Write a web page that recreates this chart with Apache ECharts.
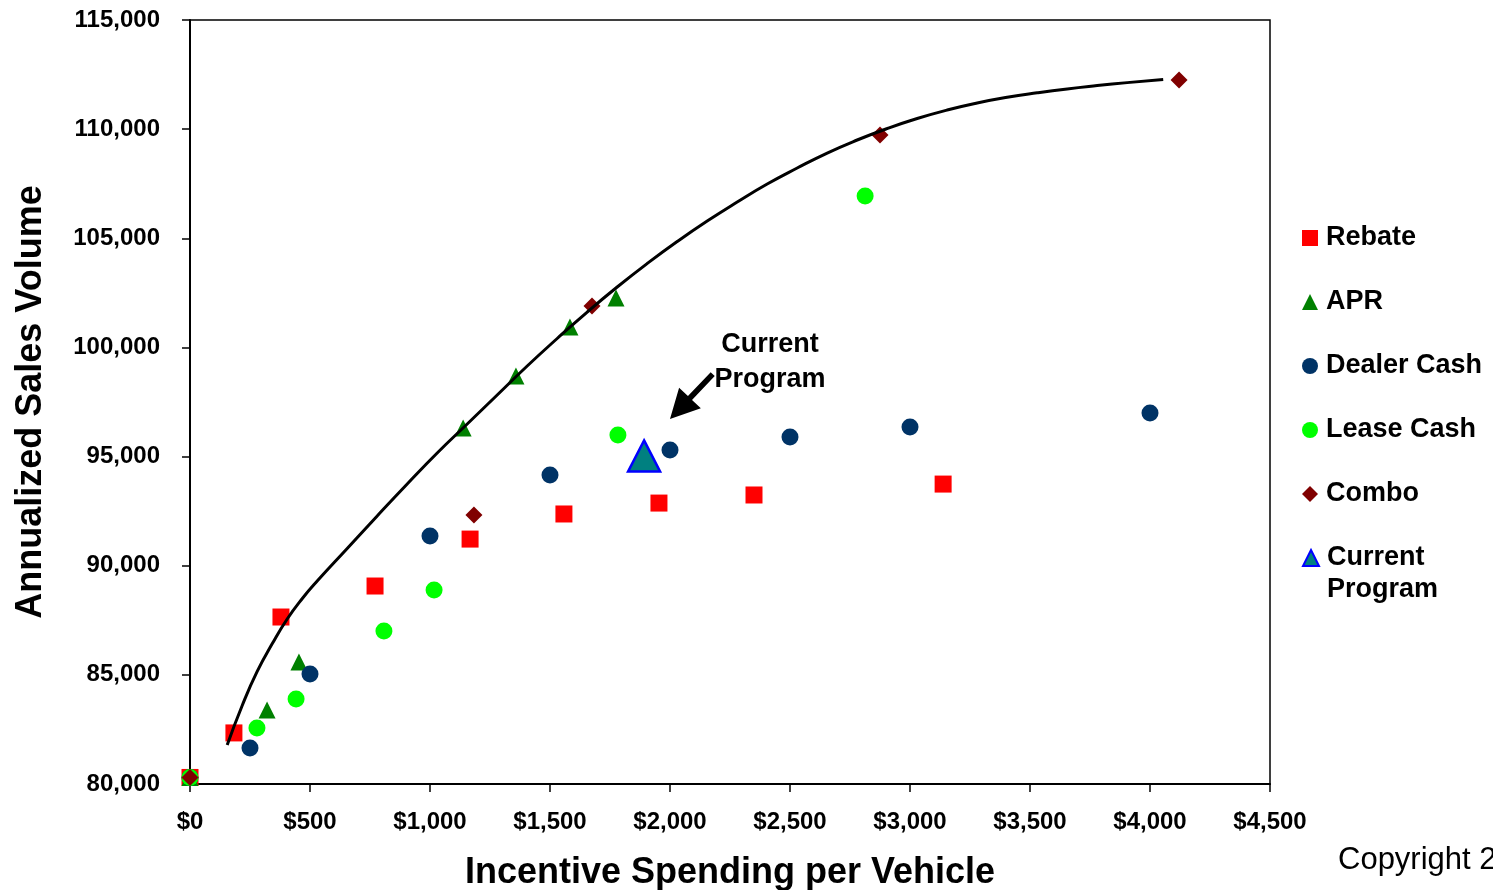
<!DOCTYPE html>
<html>
<head>
<meta charset="utf-8">
<title>Incentive Spending vs Sales Volume</title>
<script src="https://cdn.jsdelivr.net/npm/echarts@6/dist/echarts.min.js"></script>
<style>
  html, body { margin: 0; padding: 0; background: #ffffff; }
  #chart { width: 1493px; height: 890px; }
</style>
</head>
<body>
<div id="chart"></div>
<script>
// Incentive spending per vehicle ($) vs annualized sales volume, by incentive type
const rebate = [[0, 80300], [183, 82340], [379, 87650], [771, 89070], [1167, 91220], [1558, 92370], [1954, 92870], [2350, 93240], [3138, 93740]];
const apr = [[0, 80300], [321, 83390], [454, 85590], [1138, 96310], [1358, 98690], [1583, 100935], [1775, 102260]];
const dealerCash = [[0, 80300], [250, 81650], [500, 85040], [1000, 91360], [1500, 94155], [2000, 95300], [2500, 95900], [3000, 96355], [4000, 96995]];
const leaseCash = [[0, 80300], [279, 82565], [442, 83895], [808, 87010], [1017, 88890], [1783, 95990], [2813, 106935]];
const combo = [[0, 80300], [1183, 92325], [1675, 101895], [2875, 109730], [4121, 112250]];
const currentProgram = [[1892, 95030]];

// Efficient frontier curve
const frontierX = [155, 218, 280, 343, 405, 468, 530, 655, 780, 905, 1030, 1155, 1280, 1405, 1530, 1655, 1780, 1905, 2030,
                   2155, 2280, 2405, 2530, 2655, 2780, 2905, 3030, 3155, 3280, 3405, 3530, 3655, 3780, 3905, 4055];
const frontierY = [81787, 83610, 85158, 86432, 87560, 88500, 89300, 90790, 92280, 93743, 95163, 96492, 97820, 99149, 100409, 101622, 102768, 103844, 104852,
                   105791, 106661, 107486, 108219, 108906, 109502, 110028, 110487, 110876, 111197, 111458, 111664, 111843, 111994, 112131, 112278];

// Axis ranges
const xRange = { min: 0, max: 4500, step: 500 };
const yRange = { min: 80000, max: 115000, step: 5000 };

// Callout pointing at the current program: [fromX, fromY, toX, toY], text anchor
const calloutArrow = [[2178, 98780, 2000, 96720]];
const calloutText = { at: [2417, 99330], text: 'Current\nProgram' };

const FONT = "'Liberation Sans', Arial, sans-serif";

const chart = echarts.init(document.getElementById('chart'), null, { renderer: 'canvas' });

const frontier = frontierX.map((x, i) => [x, frontierY[i]]);

function scatter(name, data, symbol, size, color, extra) {
  return Object.assign({
    name: name,
    type: 'scatter',
    data: data,
    symbol: symbol,
    symbolSize: size,
    itemStyle: { color: color, opacity: 1 },
    emphasis: { disabled: true }
  }, extra || {});
}

const legendText = { fontFamily: FONT, fontSize: 27, fontWeight: 'bold', color: '#000', lineHeight: 30, padding: [0, 0, 0, 3] };

chart.setOption({
  animation: false,
  backgroundColor: '#ffffff',
  grid: {
    left: 190, right: 223, top: 20, bottom: 106,
    containLabel: false,
    outerBoundsMode: 'none',
    show: true,
    borderColor: '#000',
    borderWidth: 1.5,
    backgroundColor: 'transparent'
  },
  legend: [{
    orient: 'vertical',
    left: 1297,
    top: 218,
    itemWidth: 16,
    itemHeight: 16,
    itemGap: 34,
    textStyle: legendText,
    data: ['Rebate', 'APR', 'Dealer Cash', 'Lease Cash', 'Combo'],
    selectedMode: false
  }, {
    orient: 'vertical',
    left: 1297,
    top: 505,
    itemWidth: 16,
    itemHeight: 16,
    textStyle: Object.assign({}, legendText, { lineHeight: 32 }),
    formatter: function () { return '\nCurrent\nProgram'; },
    data: ['Current Program'],
    selectedMode: false
  }],
  xAxis: {
    type: 'value',
    min: xRange.min, max: xRange.max, interval: xRange.step,
    name: 'Incentive Spending per Vehicle',
    nameLocation: 'middle',
    nameGap: 71,
    nameTextStyle: { fontFamily: FONT, fontSize: 36, fontWeight: 'bold', color: '#000' },
    axisLine: { show: true, onZero: false, lineStyle: { color: '#000', width: 2 } },
    axisTick: { show: true, length: 8, lineStyle: { color: '#000', width: 1.5 } },
    axisLabel: {
      margin: 26,
      fontFamily: FONT, fontSize: 24, fontWeight: 'bold', color: '#000',
      formatter: v => '$' + v.toLocaleString('en-US')
    },
    splitLine: { show: false }
  },
  yAxis: {
    type: 'value',
    min: yRange.min, max: yRange.max, interval: yRange.step,
    name: 'Annualized Sales Volume',
    nameLocation: 'middle',
    nameGap: 141,
    nameTextStyle: { fontFamily: FONT, fontSize: 36, fontWeight: 'bold', color: '#000' },
    axisLine: { show: true, onZero: false, lineStyle: { color: '#000', width: 2 } },
    axisTick: { show: true, length: 8, lineStyle: { color: '#000', width: 1.5 } },
    axisLabel: {
      margin: 30,
      fontFamily: FONT, fontSize: 24, fontWeight: 'bold', color: '#000',
      formatter: v => v.toLocaleString('en-US')
    },
    splitLine: { show: false }
  },
  graphic: [{
    type: 'text',
    left: 1338,
    top: 845,
    style: { text: 'Copyright 2', font: '31px ' + FONT, fill: '#000' }
  }],
  series: [
    scatter('Rebate', rebate, 'rect', 17, '#ff0000'),
    scatter('APR', apr, 'triangle', 17, '#008000'),
    scatter('Dealer Cash', dealerCash, 'circle', 17, '#003366'),
    scatter('Lease Cash', leaseCash, 'circle', 17, '#00ff00'),
    scatter('Combo', combo, 'diamond', 17, '#800000'),
    scatter('Current Program', currentProgram, 'triangle', [32, 31], '#008080', {
      itemStyle: { color: '#008080', borderColor: '#0000ff', borderWidth: 2.5, opacity: 1 }
    }),
    {
      name: 'frontier',
      type: 'line',
      data: frontier,
      smooth: 0.5,
      showSymbol: false,
      symbol: 'none',
      lineStyle: { color: '#000', width: 3 },
      z: 5,
      silent: true
    },
    {
      name: 'callout',
      type: 'custom',
      data: calloutArrow,
      z: 6,
      silent: true,
      renderItem: function (params, api) {
        const p0 = api.coord([api.value(0), api.value(1)]);
        const p1 = api.coord([api.value(2), api.value(3)]);
        const dx = p1[0] - p0[0], dy = p1[1] - p0[1];
        const len = Math.sqrt(dx * dx + dy * dy);
        const ux = dx / len, uy = dy / len;
        const nx = -uy, ny = ux;
        const headLen = 29, headHalf = 15, shaftHalf = 2.8;
        const bx = p1[0] - ux * headLen, by = p1[1] - uy * headLen;
        const pts = [
          [p0[0] + nx * shaftHalf, p0[1] + ny * shaftHalf],
          [bx + nx * shaftHalf, by + ny * shaftHalf],
          [bx + nx * headHalf, by + ny * headHalf],
          [p1[0], p1[1]],
          [bx - nx * headHalf, by - ny * headHalf],
          [bx - nx * shaftHalf, by - ny * shaftHalf],
          [p0[0] - nx * shaftHalf, p0[1] - ny * shaftHalf]
        ];
        const tp = api.coord(calloutText.at);
        return {
          type: 'group',
          children: [{
            type: 'polygon',
            shape: { points: pts },
            style: { fill: '#000' }
          }, {
            type: 'text',
            x: tp[0], y: tp[1],
            style: {
              text: calloutText.text,
              font: 'bold 27px ' + FONT,
              lineHeight: 35,
              fill: '#000',
              align: 'center',
              verticalAlign: 'middle'
            }
          }]
        };
      }
    }
  ]
});
</script>
</body>
</html>
